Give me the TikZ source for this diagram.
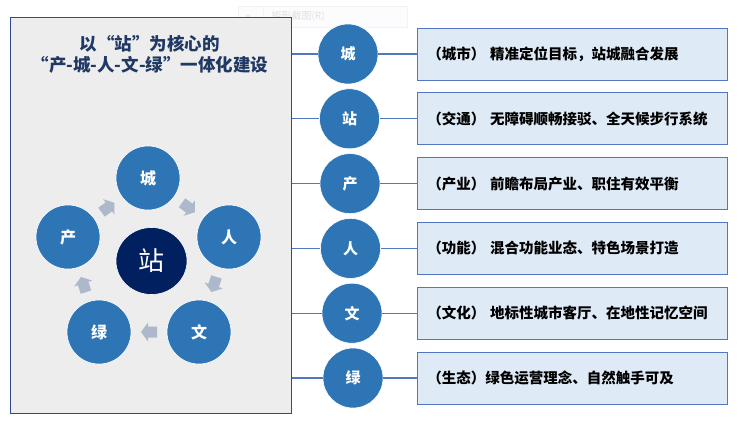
\documentclass[tikz,border=0pt]{standalone}
\usepackage{fontspec}
\setmainfont{Noto Sans CJK SC}
\usetikzlibrary{
  calc,
  positioning,
  shapes.geometric,
}
\definecolor{ringblue}{HTML}{2E75B6}
\definecolor{hubnavy}{HTML}{002060}
\definecolor{titlenavy}{HTML}{1F3864}
\definecolor{framegray}{HTML}{EDEDED}
\definecolor{frameline}{HTML}{2F4A8C}
\definecolor{cardfill}{HTML}{DEEAF6}
\definecolor{cardline}{HTML}{5276C0}
\definecolor{flowgray}{HTML}{ADB9CA}
\tikzset{
  >=stealth,
  flowarrow/.pic={
    \fill [flowgray] (-8,-5.5) -- (1,-5.5) -- (1,-9.5) -- (8,0) -- (1,9.5) -- (1,5.5) -- (-8,5.5) -- cycle;
  },
}

\begin{document}
\begin{tikzpicture}[
      x=1pt, y=-1pt,
      ring/.style={circle, fill=ringblue, draw=white, line width=0.6pt, minimum size=64pt,
        inner sep=0pt, text=white, font=\fontsize{16}{16}\selectfont\bfseries},
      hub/.style={ellipse, fill=hubnavy, draw=white, line width=0.6pt, minimum width=71pt,
        minimum height=67pt, inner sep=0pt, text=white, font=\fontsize{26}{26}\selectfont},
      key/.style={circle, fill=ringblue, draw=white, line width=0.6pt, minimum size=60pt,
        inner sep=0pt, text=white, font=\fontsize{15}{15}\selectfont\bfseries},
      card/.style={draw=cardline, fill=cardfill, line width=0.8pt, minimum width=310pt,
        minimum height=52pt, text width=290pt, inner xsep=10pt, align=left, anchor=west,
        font=\fontsize{14.5}{14.5}\selectfont\bfseries},
      link/.style={draw=cardline, line width=1.2pt},
    ]
      \useasboundingbox (0,0) rectangle (740,421);
      % faint screen tooltip
      \node [draw=black!5, fill=blue!1, line width=0.6pt, minimum width=169pt, minimum height=21pt,
        inner sep=0pt] (tip) at (322.5,16.5) {};
      \node [circle, fill=black!7, minimum size=4pt, inner sep=0pt] (tipdot) at (248,16) {};
      \node [text=black!12, font=\fontsize{10}{10}\selectfont, anchor=west] (tiptext) at (268,16) {矩形截图(R)};
      \draw [black!5] (tip.north west) ++(25,0) -- ++(0,21);
      % left panel
      \node [draw=frameline, fill=framegray, line width=0.8pt, minimum width=281pt,
        minimum height=396pt, inner sep=0pt, anchor=north west] (frame) at (10,17) {};
      \node [text=titlenavy, align=center, font=\fontsize{17.5}{21}\selectfont\bfseries]
        (title) at (150,54.5) {以“站”为核心的\\“产-城-人-文-绿”一体化建设};
      \node [ring] (cheng) at (148,178) {城};
      \node [ring] (ren) at (229,237) {人};
      \node [ring] (wen) at (199,332) {文};
      \node [ring] (lv) at (99,332) {绿};
      \node [ring] (chan) at (68,237) {产};
      \node [hub] (zhan) at (151.5,261) {站};
      \pic [rotate=-36] (f1) at ($(cheng)!0.5!(ren)$) {flowarrow};
      \pic [rotate=-108] (f2) at ($(ren)!0.5!(wen)$) {flowarrow};
      \pic [rotate=180] (f3) at ($(wen)!0.5!(lv)$) {flowarrow};
      \pic [rotate=108] (f4) at ($(lv)!0.5!(chan)$) {flowarrow};
      \pic [rotate=36] (f5) at ($(chan)!0.5!(cheng)$) {flowarrow};
      % right column
      \node [key] (k1) at (348,54) {城};
      \node [key] (k2) at (349.5,118.8) {站};
      \node [key] (k3) at (350,183.6) {产};
      \node [key] (k4) at (350.5,248.4) {人};
      \node [key] (k5) at (352,313.2) {文};
      \node [key] (k6) at (353,378) {绿};
      \node [card] (c1) at (417,54) {（城市） 精准定位目标，站城融合发展};
      \node [card] (c2) at (417,118.8) {（交通） 无障碍顺畅接驳、全天候步行系统};
      \node [card] (c3) at (417,183.6) {（产业） 前瞻布局产业、职住有效平衡};
      \node [card] (c4) at (417,248.4) {（功能） 混合功能业态、特色场景打造};
      \node [card] (c5) at (417,313.2) {（文化） 地标性城市客厅、在地性记忆空间};
      \node [card] (c6) at (417,378) {（生态）绿色运营理念、自然触手可及};
      \foreach \i in {1,...,6} {
        \path [link] (k\i) -- (k\i -| frame.east)
                     (k\i) -- (c\i);
      }
    \end{tikzpicture}
\end{document}
